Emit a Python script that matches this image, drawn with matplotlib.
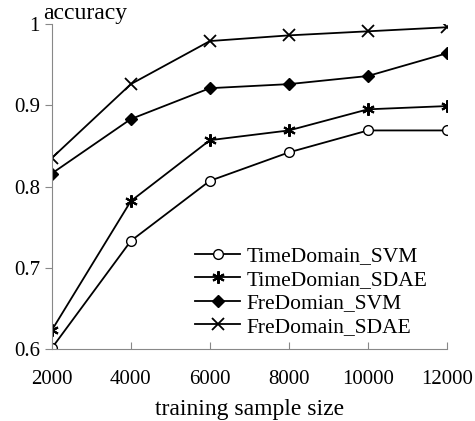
import numpy as np
import matplotlib.pyplot as plt

plt.rcParams['font.family'] = 'Liberation Serif'

sizes = [2000, 4000, 6000, 8000, 10000, 12000]
time_svm = [0.601, 0.733, 0.807, 0.842, 0.869, 0.869]
time_sdae = [0.623, 0.782, 0.857, 0.869, 0.895, 0.899]
fre_svm = [0.816, 0.883, 0.921, 0.926, 0.936, 0.964]
fre_sdae = [0.835, 0.926, 0.979, 0.986, 0.991, 0.996]

fig = plt.figure(figsize=(4.75, 4.21), dpi=100)
ax = fig.add_axes([0.109, 0.171, 0.832, 0.772])

ax.plot(sizes, time_svm, 'k-', marker='o', mfc='white', ms=7, lw=1.3, label='TimeDomain_SVM')
ax.plot(sizes, time_sdae, 'k-', marker=(6, 2, 0), ms=9, mew=1.5, lw=1.3, label='TimeDomian_SDAE')
ax.plot(sizes, fre_svm, 'k-', marker='D', ms=6, lw=1.3, label='FreDomian_SVM')
ax.plot(sizes, fre_sdae, 'k-', marker='x', ms=8, mew=1.3, lw=1.3, label='FreDomain_SDAE')

ax.set_xlim(2000, 12000)
ax.set_ylim(0.6, 1.0)
ax.set_xticks(sizes)
ax.set_yticks([0.6, 0.7, 0.8, 0.9, 1.0])
ax.set_yticklabels(['0.6', '0.7', '0.8', '0.9', '1'])
ax.spines['top'].set_visible(False)
ax.spines['right'].set_visible(False)
ax.spines['left'].set_color('#888888')
ax.spines['bottom'].set_color('#888888')
ax.tick_params(axis='x', direction='in', length=5, color='#888888', labelsize=15, pad=15)
ax.tick_params(axis='y', direction='out', length=5, color='#888888', labelsize=15)
ax.set_xlabel('training sample size', fontsize=17, labelpad=7)
ax.text(-0.022, 1.0, 'accuracy', transform=ax.transAxes, fontsize=17, ha='left', va='bottom')

ax.legend(loc='lower right', frameon=False, fontsize=15.5, handlelength=2.1,
          labelspacing=0.16, handletextpad=0.3, bbox_to_anchor=(1.0, -0.022))

fig.savefig('out.png', dpi=100)
